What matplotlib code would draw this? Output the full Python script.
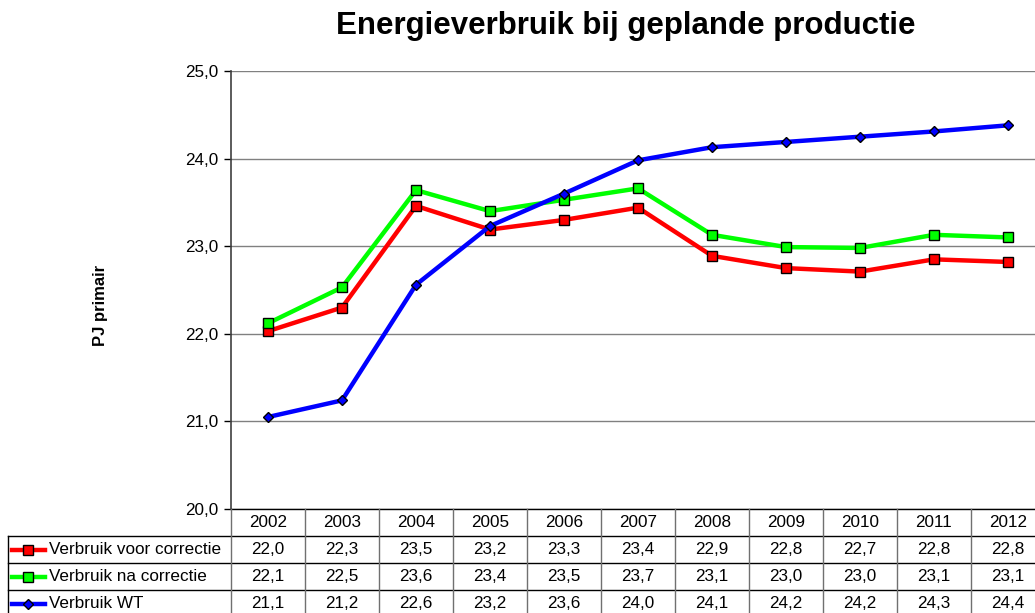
import numpy as np
import matplotlib
matplotlib.use('Agg')
import matplotlib.pyplot as plt
from matplotlib.ticker import FuncFormatter, MultipleLocator

plt.rcParams['font.family'] = ['Liberation Sans', 'DejaVu Sans']

jaren = ['2002', '2003', '2004', '2005', '2006', '2007', '2008', '2009', '2010', '2011', '2012']
voor = [22.03, 22.30, 23.46, 23.19, 23.30, 23.44, 22.89, 22.75, 22.71, 22.85, 22.82]
na = [22.12, 22.53, 23.64, 23.40, 23.53, 23.66, 23.13, 22.99, 22.98, 23.13, 23.10]
wt = [21.05, 21.24, 22.56, 23.23, 23.60, 23.98, 24.13, 24.19, 24.25, 24.31, 24.38]

# waarden zoals in de tabel onder de grafiek
voor_tabel = ['22,0', '22,3', '23,5', '23,2', '23,3', '23,4', '22,9', '22,8', '22,7', '22,8', '22,8']
na_tabel = ['22,1', '22,5', '23,6', '23,4', '23,5', '23,7', '23,1', '23,0', '23,0', '23,1', '23,1']
wt_tabel = ['21,1', '21,2', '22,6', '23,2', '23,6', '24,0', '24,1', '24,2', '24,2', '24,3', '24,4']
namen = ['Verbruik voor correctie', 'Verbruik na correctie', 'Verbruik WT']

W, H = 1035, 613
fig = plt.figure(figsize=(W / 100, H / 100), dpi=100)

# plotgebied loopt rechts iets buiten het beeld
x0, x1 = 231, 1045
ax = fig.add_axes([x0 / W, 1 - 509 / H, (x1 - x0) / W, (509 - 71) / H])
x = np.arange(len(jaren))

stijlen = [
    dict(color='#ff0000', marker='s', markersize=6.5, markerfacecolor='#ff0000'),
    dict(color='#00ff00', marker='s', markersize=6.5, markerfacecolor='#00ff00'),
    dict(color='#0000ff', marker='D', markersize=4.8, markerfacecolor='#0000ff'),
]
reeksen = [voor, na, wt]
for reeks, st in zip(reeksen, stijlen):
    ax.plot(x, reeks, lw=3.2, markeredgecolor='black', markeredgewidth=1, clip_on=False, zorder=3, **st)

ax.set_xlim(-0.5, len(jaren) - 0.5)
ax.set_ylim(20, 25)
ax.yaxis.set_major_locator(MultipleLocator(1))
ax.yaxis.set_major_formatter(FuncFormatter(lambda v, p: f'{v:.1f}'.replace('.', ',')))
ax.tick_params(axis='y', direction='out', length=5, width=1, pad=4, labelsize=12.3, colors='black')
ax.set_xticks([])
ax.grid(axis='y', color='#808080', lw=1)
for s in ['top', 'right', 'bottom']:
    ax.spines[s].set_visible(False)
ax.spines['left'].set_color('#404040')
ax.spines['left'].set_linewidth(1.2)

fig.text(626 / W, 1 - 26 / H, 'Energieverbruik bij geplande productie', ha='center', va='center',
         fontsize=22.5, fontweight='bold')
fig.text(100 / W, 1 - 305 / H, 'PJ primair', rotation=90, ha='center', va='center',
         fontsize=12, fontweight='bold')

# datatabel onder de grafiek
tab = fig.add_axes([x0 / W, 1 - 617 / H, (x1 - x0) / W, (617 - 509) / H])
tab.set_xlim(-0.5, len(jaren) - 0.5)
tab.set_ylim(4, 0)
tab.axis('off')
links = -0.5 - (x0 - 8) / 74
lijn = dict(color='black', lw=1, clip_on=False)
tab.plot([-0.5, len(jaren) - 0.5], [0, 0], **lijn)
for r in [1, 2, 3, 4]:
    tab.plot([links, len(jaren) - 0.5], [r, r], **lijn)
for k in range(len(jaren) + 1):
    tab.plot([k - 0.5, k - 0.5], [0, 4], color='#707070', lw=1, clip_on=False)
tab.plot([links, links], [1, 4], **lijn)

for i, j in enumerate(jaren):
    tab.text(i, 0.5, j, ha='center', va='center', fontsize=12.3)
for r, (rij, naam, st) in enumerate(zip([voor_tabel, na_tabel, wt_tabel], namen, stijlen), start=1):
    for i, v in enumerate(rij):
        tab.text(i, r + 0.5, v, ha='center', va='center', fontsize=12.3)
    lx = [-0.5 - (x0 - 12) / 74, -0.5 - (x0 - 45) / 74]
    tab.plot(lx, [r + 0.5, r + 0.5], color=st['color'], lw=3.2, clip_on=False)
    tab.plot([np.mean(lx)], [r + 0.5], ls='none', marker=st['marker'], markersize=st['markersize'],
             markerfacecolor=st['markerfacecolor'], markeredgecolor='black', clip_on=False)
    tab.text(-0.5 - (x0 - 49) / 74, r + 0.5, naam, ha='left', va='center', fontsize=12.3)

fig.savefig('out.png', dpi=100)
